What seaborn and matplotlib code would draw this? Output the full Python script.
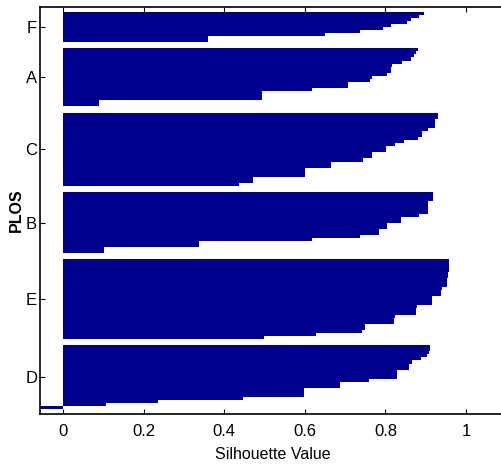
import matplotlib
matplotlib.use("Agg")
import matplotlib.pyplot as plt
import seaborn as sns
import pandas as pd
import numpy as np

# cluster names (top to bottom) and silhouette values (sorted, descending)
clusters = ["F", "A", "C", "B", "E", "D"]
sil_F = [0.895, 0.883, 0.863, 0.853, 0.813, 0.795, 0.736, 0.649, 0.361, 0.361]
sil_A = [0.880, 0.875, 0.870, 0.864, 0.841, 0.816, 0.814, 0.814, 0.803, 0.768,
         0.763, 0.706, 0.706, 0.618, 0.494, 0.494, 0.494, 0.089, 0.089]
sil_C = [0.930, 0.930, 0.922, 0.922, 0.922, 0.905, 0.890, 0.890, 0.880, 0.846,
         0.823, 0.801, 0.801, 0.768, 0.768, 0.744, 0.665, 0.665, 0.600, 0.600,
         0.600, 0.471, 0.471, 0.437]
sil_B = [0.917, 0.917, 0.917, 0.905, 0.905, 0.905, 0.905, 0.883, 0.838, 0.838,
         0.804, 0.804, 0.783, 0.783, 0.737, 0.618, 0.337, 0.337, 0.103, 0.101]
sil_E = [0.959, 0.959, 0.959, 0.959, 0.955, 0.955, 0.952, 0.952, 0.952, 0.940,
         0.937, 0.937, 0.915, 0.915, 0.915, 0.878, 0.875, 0.875, 0.825, 0.821,
         0.821, 0.749, 0.749, 0.741, 0.629, 0.500]
sil_D = [0.911, 0.911, 0.907, 0.904, 0.888, 0.865, 0.858, 0.858, 0.830, 0.830,
         0.830, 0.759, 0.687, 0.687, 0.597, 0.597, 0.597, 0.446, 0.237, 0.106,
         -0.057]
xtick_vals = [0, 0.2, 0.4, 0.6, 0.8, 1]
xtick_labels = ["0", "0.2", "0.4", "0.6", "0.8", "1"]
x_label = "Silhouette Value"
y_label = "PLOS"

series = [sil_F, sil_A, sil_C, sil_B, sil_E, sil_D]

# MATLAB-style silhouette layout: each point one row, gaps between clusters
n = sum(len(s) for s in series)
space = max(int(np.floor(0.02 * n)), 2)
rows, vals, labs = [], [], []
tick_pos = []
pos = space
for name, s in zip(clusters, series):
    start = pos + 1
    for v in s:
        pos += 1
        rows.append(pos)
        vals.append(v)
        labs.append(name)
    tick_pos.append((start + pos) / 2)
    pos += space
total = pos
df = pd.DataFrame({"row": rows, "value": vals, "cluster": labs})

plt.rcParams["font.family"] = ["Liberation Sans", "DejaVu Sans"]
plt.rcParams["text.color"] = "black"
plt.rcParams["axes.labelcolor"] = "black"
plt.rcParams["xtick.color"] = "black"
plt.rcParams["ytick.color"] = "black"

fig = plt.figure(figsize=(5.01, 4.69), dpi=100)
fig.patch.set_facecolor("white")
W, H = 501, 469
x_lo, x_hi = -0.057, 1.1
left_px, top_px, bot_px = 40, 7, 414
x0_px = 63
scale = 403.0
right_px = x0_px + x_hi * scale
ax_w = right_px - left_px
ax = fig.add_axes([left_px / W, (H - bot_px) / H,
                   ax_w / W, (bot_px - top_px) / H])
ax.set_facecolor("white")

sns.barplot(data=df, x="value", y="row", orient="h", native_scale=True,
            width=1.0, color="#00008F", saturation=1, linewidth=0,
            errorbar=None, ax=ax)

ax.set_xlim(x_lo, x_hi)
ax.set_ylim(total, 1)
ax.set_yticks(tick_pos)
ax.set_yticklabels(clusters, fontsize=12)
ax.set_xticks(xtick_vals)
ax.set_xticklabels(xtick_labels, fontsize=12)
ax.set_xlabel(x_label, fontsize=11.5, labelpad=6)
ax.set_ylabel(y_label, fontsize=11.5, fontweight="bold")
ax.yaxis.set_label_coords((24 - left_px) / ax_w, 0.5)

ax.tick_params(axis="x", direction="in", length=3.5, width=0.8,
               top=True, bottom=True, pad=7)
ax.tick_params(axis="y", direction="in", length=3.5, width=0.8,
               left=True, right=False, pad=2)
for t in ax.yaxis.get_major_ticks():
    t.tick1line.set_visible(True)
    t.tick1line.set_color("black")
ax.grid(False)
for sp in ax.spines.values():
    sp.set_visible(True)
    sp.set_color("black")
    sp.set_linewidth(1.2)

fig.savefig("out.png", dpi=100)
